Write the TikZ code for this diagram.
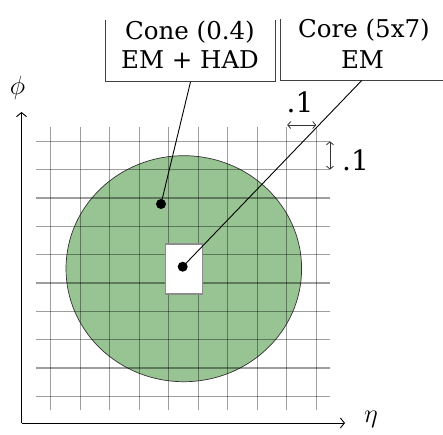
\documentclass[tikz,border=0pt]{standalone}
\usepackage{fontspec}
\setmainfont{DejaVu Serif}
\usetikzlibrary{arrows.meta}
\definecolor{conegreen}{RGB}{152,195,147}
\begin{document}
\begin{tikzpicture}[x=1pt,y=-1pt,
  gridline/.style={draw=black,draw opacity=0.38,line width=1.3pt},
  boxside/.style={draw=black!75,line width=0.9pt},
  boxtext/.style={font=\fontsize{24.5}{29}\selectfont,inner sep=0pt,anchor=base},
  dimtext/.style={font=\fontsize{28}{30}\selectfont,inner sep=0pt},
  dotnode/.style={circle,fill=black,inner sep=0pt,minimum size=10pt},
  connector/.style={draw=black,line width=0.9pt},
  axis/.style={draw=black,line width=0.9pt,-{Straight Barb[length=4pt,width=10pt]}},
  dimarrow/.style={draw=black!80,line width=0.8pt,{Straight Barb[length=3pt,width=7pt]}-{Straight Barb[length=3pt,width=7pt]}},
  axlabel/.style={font=\fontsize{12}{12}\selectfont,inner sep=0pt,scale=2.2}]
\useasboundingbox (0,0) rectangle (443,434);
% cone area
\fill[conegreen] (183.8,268.7) ellipse [x radius=117.8, y radius=113];
\draw[black!80,line width=0.7pt] (183.8,268.7) ellipse [x radius=117.8, y radius=113];
% grid
\foreach \i in {0,...,9} {
  \path[gridline] ({50.7+29.5*\i},127) -- ({50.7+29.5*\i},410);
  \path[gridline] (36,{141.3+28.33*\i}) -- (330,{141.3+28.33*\i});
}
% core box
\node[draw=black!45,fill=white,line width=1.2pt,minimum width=36.8pt,minimum height=50pt,inner sep=0pt] (core) at (184.1,269) {};
% axes
\coordinate (origin) at (21.5,423);
\coordinate (ytip) at (21.5,112);
\coordinate (xtip) at (345,423);
\draw[axis] (origin) -- (ytip);
\draw[axis] (origin) -- (xtip);
\node[axlabel] (phi) at (17.5,88) {$\phi$};
\node[axlabel] (eta) at (371,419) {$\eta$};
% label boxes
\node[minimum width=169pt,minimum height=62pt,inner sep=0pt] (conebox) at (190.5,50.7) {};
\draw[boxside] (conebox.north west) |- (conebox.south east) -- (conebox.north east);
\node[minimum width=166pt,minimum height=61pt,inner sep=0pt] (corebox) at (364,50) {};
\draw[boxside] (corebox.north west) |- (corebox.south east) -- (corebox.north east);
\node[boxtext] (conet1) at (190,39.3) {Cone (0.4)};
\node[boxtext] (conet2) at (190,68.3) {EM + HAD};
\node[boxtext] (coret1) at (364,37.5) {Core (5x7)};
\node[boxtext] (coret2) at (362.5,68.3) {EM};
% dots and connectors
\node[dotnode] (conedot) at (161,204) {};
\node[dotnode] (coredot) at (182.7,266.7) {};
\draw[connector] (conebox.south) -- (conedot.center);
\draw[connector] (361.7,80.5) coordinate (corefoot) -- (coredot.center);
% dimension marks
\coordinate (hd1) at (287.2,125);
\coordinate (hd2) at (316.2,125);
\draw[dimarrow] (hd1) -- (hd2);
\node[dimtext,anchor=base] (dimh) at (300,112) {.1};
\coordinate (vd1) at (330,141.3);
\coordinate (vd2) at (330,169.6);
\draw[dimarrow] (vd1) -- (vd2);
\node[dimtext,anchor=base west] (dimv) at (342,170.5) {.1};
\end{tikzpicture}
\end{document}
